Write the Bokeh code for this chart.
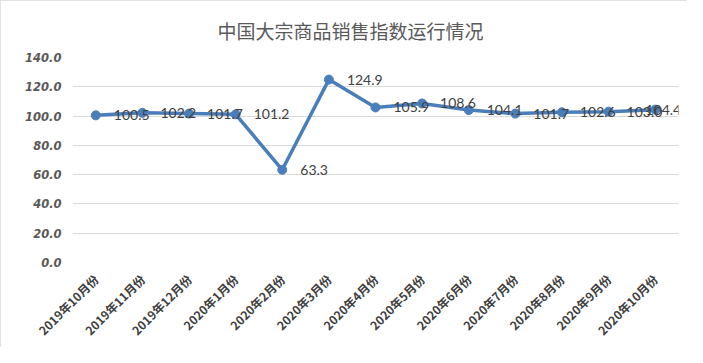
import math
from bokeh.plotting import figure
from bokeh.models import ColumnDataSource, FixedTicker, NumeralTickFormatter, Range1d, FactorRange, LabelSet
from bokeh.core.properties import value
from bokeh.embed import file_html
from bokeh.resources import INLINE

title_text = "中国大宗商品销售指数运行情况"
months = ["2019年10月份", "2019年11月份", "2019年12月份", "2020年1月份", "2020年2月份",
          "2020年3月份", "2020年4月份", "2020年5月份", "2020年6月份", "2020年7月份",
          "2020年8月份", "2020年9月份", "2020年10月份"]
index_values = [100.5, 102.2, 101.7, 101.2, 63.3, 124.9, 105.9, 108.6, 104.1, 101.7, 102.6, 103.0, 104.4]
value_labels = ["100.5", "102.2", "101.7", "101.2", "63.3", "124.9", "105.9", "108.6",
                "104.1", "101.7", "102.6", "103.0", "104.4"]
y_ticks = [0, 20, 40, 60, 80, 100, 120, 140]

src = ColumnDataSource(dict(x=months, y=index_values, t=value_labels))
src_main = ColumnDataSource(dict(x=months[:-1], y=index_values[:-1], t=value_labels[:-1]))
src_last = ColumnDataSource(dict(x=months[-1:], y=index_values[-1:], t=value_labels[-1:]))

p = figure(width=687, height=347, x_range=FactorRange(*months), y_range=Range1d(0, 140),
           output_backend="svg", toolbar_location=None,
           min_border_left=72, min_border_right=9, min_border_top=57, min_border_bottom=84)

p.title.text = title_text
p.title.align = "left"
p.title.offset = 145
p.title.text_font = "Noto Sans CJK SC"
p.title.text_font_size = "19px"
p.title.text_font_style = "normal"
p.title.text_color = "#595959"
p.title.standoff = 28

p.outline_line_color = None
p.xgrid.grid_line_color = None
p.ygrid.grid_line_color = "#d9d9d9"
p.ygrid.grid_line_width = 1

p.yaxis.ticker = FixedTicker(ticks=y_ticks)
p.yaxis.formatter = NumeralTickFormatter(format="0.0")
p.yaxis.axis_line_color = None
p.yaxis.major_tick_line_color = None
p.yaxis.minor_tick_line_color = None
p.yaxis.major_label_text_font = "DejaVu Sans"
p.yaxis.major_label_text_font_style = "bold italic"
p.yaxis.major_label_text_font_size = "11.5px"
p.yaxis.major_label_text_color = "#595959"
p.yaxis.major_label_standoff = 5

p.xaxis.axis_line_color = None
p.xaxis.major_tick_line_color = None
p.xaxis.minor_tick_line_color = None
p.xaxis.major_label_orientation = math.pi / 4
p.xaxis.major_label_text_font = "Noto Sans CJK SC"
p.xaxis.major_label_text_font_style = "bold"
p.xaxis.major_label_text_font_size = "12px"
p.xaxis.major_label_text_color = "#404040"
p.xaxis.major_label_standoff = 8

p.line("x", "y", source=src, line_color="#4a7ebb", line_width=3.5)
p.scatter("x", "y", source=src, size=9, fill_color="#4a7ebb", line_color="#4a7ebb")

label_style = dict(text_baseline="middle", text_font=value("Lato"), text_font_size="14px",
                   text_color="#404040", level="overlay")
p.add_layout(LabelSet(x="x", y="y", text="t", source=src_main, x_offset=18, **label_style))
p.add_layout(LabelSet(x="x", y="y", text="t", source=src_last, x_offset=26, text_align="right",
                      **label_style))

p.styles = {"outline": "1px solid #d9d9d9", "outline-offset": "-1px"}

open("out.html", "w").write(file_html(p, INLINE))
